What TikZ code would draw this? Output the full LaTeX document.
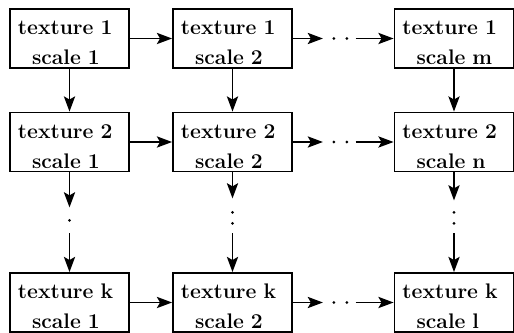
\documentclass[tikz,border=0pt]{standalone}
\usetikzlibrary{arrows.meta,calc}
\begin{document}
\begin{tikzpicture}[x=0.025cm, y=-0.025cm, line width=1.3pt, >={Stealth[length=3.8mm, width=2.8mm, inset=0.8mm]},
  font=\fontsize{15}{21.5}\selectfont\bfseries,
  box/.style={draw, rectangle, align=left, text width=2.575cm, inner xsep=0.2cm, inner ysep=0pt, minimum height=1.475cm,
    execute at begin node={\rule{0pt}{16pt}}}]
  \useasboundingbox (0,0) rectangle (514,333);
  % first row
  \node[box] (t11) at (69.5,38.5) {texture 1\\\hspace*{10pt}scale 1};
  \node[box] (t12) at (232.5,38.5) {texture 1\\\hspace*{10pt}scale 2};
  \node[box] (t1m) at (454,38.5) {texture 1\\\hspace*{10pt}scale m};
  % second row
  \node[box] (t21) at (69.5,142) {texture 2\\\hspace*{10pt}scale 1};
  \node[box] (t22) at (232.5,142) {texture 2\\\hspace*{10pt}scale 2};
  \node[box] (t2n) at (454,142) {texture 2\\\hspace*{10pt}scale n};
  % last row
  \node[box] (tk1) at (69.5,302.5) {texture k\\\hspace*{10pt}scale 1};
  \node[box] (tk2) at (232.5,302.5) {texture k\\\hspace*{10pt}scale 2};
  \node[box] (tkl) at (454,302.5) {texture k\\\hspace*{10pt}scale l};
  % ends of the broken arrows
  \coordinate (h1a) at ($(t12.east)+(30,0)$);
  \coordinate (h1b) at ($(t1m.west)+(-38,0)$);
  \coordinate (h2a) at ($(t22.east)+(30,0)$);
  \coordinate (h2b) at ($(t2n.west)+(-38,0)$);
  \coordinate (h3a) at ($(tk2.east)+(30,0)$);
  \coordinate (h3b) at ($(tkl.west)+(-38,0)$);
  \coordinate (v1a) at ($(t21.south)+(0,35)$);
  \coordinate (v1b) at ($(tk1.north)+(0,-39)$);
  \coordinate (v2a) at ($(t22.south)+(0,26)$);
  \coordinate (v2b) at ($(tk2.north)+(0,-39)$);
  \coordinate (v3a) at ($(t2n.south)+(0,28)$);
  \coordinate (v3b) at ($(tkl.north)+(0,-39)$);
  % plain arrows
  \draw[->] (t11) -- (t12);
  \draw[->] (t21) -- (t22);
  \draw[->] (tk1) -- (tk2);
  \draw[->] (t11) -- (t21);
  \draw[->] (t12) -- (t22);
  \draw[->] (t1m) -- (t2n);
  % broken arrows
  \draw[->] (t12) -- (h1a);
  \draw[->] (h1b) -- (t1m);
  \draw[->] (t22) -- (h2a);
  \draw[->] (h2b) -- (t2n);
  \draw[->] (tk2) -- (h3a);
  \draw[->] (h3b) -- (tkl);
  \draw[->] (t21) -- (v1a);
  \draw[->] (v1b) -- (tk1);
  \draw[->] (t22) -- (v2a);
  \draw[->] (v2b) -- (tk2);
  \draw[->] (t2n) -- (v3a);
  \draw[->] (v3b) -- (tkl);
  % dots in the gaps
  \foreach \dx in {11,24} {
    \fill ($(h1a)+(\dx,0)$) circle[radius=1.1pt];
    \fill ($(h2a)+(\dx,0)$) circle[radius=1.1pt];
    \fill ($(h3a)+(\dx,0)$) circle[radius=1.1pt];
  }
  \fill ($(v1a)+(0,13)$) circle[radius=1.1pt];
  \foreach \dy in {14,25} {
    \fill ($(v2a)+(0,\dy)$) circle[radius=1.1pt];
    \fill ($(v3a)+(0,\dy-2)$) circle[radius=1.1pt];
  }
\end{tikzpicture}
\end{document}
